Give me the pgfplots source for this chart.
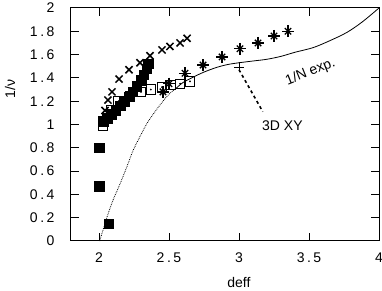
\documentclass[border=0pt]{standalone}
\usepackage{pgfplots}
\pgfplotsset{compat=1.18}
\usepackage{fontspec}
\setmainfont{Liberation Sans}
\newfontfamily\tickfont[LetterSpace=18]{Liberation Sans}

\pgfplotstableread{
x y
2.043 1.12
2.064 1.21
2.093 1.28
2.143 1.39
2.214 1.47
2.293 1.53
2.364 1.59
2.45 1.64
2.507 1.67
2.579 1.70
2.629 1.74
}\crosses

\pgfplotstableread{
x y
2.00 0.80
2.00 0.47
2.07 0.15
2.03 1.03
2.06 1.06
2.09 1.09
2.12 1.12
2.15 1.16
2.18 1.20
2.21 1.24
2.24 1.28
2.27 1.33
2.30 1.38
2.32 1.43
2.34 1.48
2.35 1.52
}\filled

\pgfplotstableread{
x y
2.03 0.99
2.06 1.05
2.09 1.12
2.14 1.20
2.22 1.24
2.30 1.28
2.37 1.30
2.45 1.32
2.51 1.34
2.58 1.35
2.65 1.37
}\open

\pgfplotstableread{
x y
2.457 1.28
2.50 1.35
2.614 1.44
2.743 1.51
2.879 1.58
3.007 1.65
3.136 1.70
3.25 1.76
3.35 1.80
}\stars

\begin{document}
\begin{tikzpicture}
\path[use as bounding box] (-71pt,-50pt) rectangle (311pt,241pt);
\begin{axis}[
  at={(0pt,0pt)}, anchor=south west,
  scale only axis, width=308pt, height=233pt,
  xmin=1.8, xmax=4, ymin=0, ymax=2,
  xtick={2,2.5,3,3.5,4}, xticklabels={2,2.5,3,3.5,4},
  ytick={0,0.2,0.4,0.6,0.8,1,1.2,1.4,1.6,1.8,2},
  yticklabels={0,0.2,0.4,0.6,0.8,1,1.2,1.4,1.6,1.8,2},
  tick align=inside, major tick length=8pt,
  tick style={black, line width=1pt},
  axis line style={line width=1pt},
  every tick label/.append style={font=\tickfont\fontsize{14}{14}\selectfont},
  xticklabel style={yshift=-8pt},
  yticklabel style={xshift=-13pt},
  xlabel={deff}, ylabel={1/ν},
  label style={font=\fontsize{14}{14}\selectfont},
  xlabel style={at={(axis description cs:0.545,-0.176)}, anchor=center},
  ylabel style={at={(axis description cs:-0.198,0.652)}, anchor=center, rotate=0},
  clip=false,
]
% dotted branch
\addplot[black, densely dotted, line width=0.8pt, no marks, smooth] coordinates {
(2.005,0.0) (2.03,0.10) (2.064,0.23) (2.10,0.35) (2.15,0.49) (2.20,0.64) (2.243,0.776)
(2.29,0.89) (2.343,1.01) (2.40,1.11) (2.45,1.19) (2.50,1.26) (2.55,1.31)};
% solid 1/N
\addplot[black, line width=0.8pt, no marks, smooth] coordinates {
(2.55,1.31) (2.60,1.36) (2.67,1.405) (2.75,1.45) (2.84,1.49) (2.92,1.515) (3.0,1.53)
(3.1,1.545) (3.2,1.56) (3.3,1.585) (3.4,1.62) (3.53,1.66) (3.65,1.72) (3.77,1.79)
(3.88,1.88) (4.0,2.0)};
% 3D XY
\addplot[black, line width=1.6pt, dash pattern=on 3pt off 3pt, no marks] coordinates {(3.0,1.47) (3.17,1.11)};
\addplot[black, only marks, mark=+, mark size=5pt, line width=1pt] coordinates {(3.0,1.49)};
% data
\addplot[black, only marks, mark=x, mark size=5pt, line width=1.5pt] table {\crosses};
\addplot[black, only marks, mark=square*, mark size=4.7pt] table {\filled};
\addplot[black, only marks, mark=square, mark size=4.7pt, line width=1pt, fill=white] table {\open};
\addplot[black, only marks, mark=*, mark size=0.7pt] table {\open};
\addplot[black, only marks, mark=x, mark size=4.5pt, line width=1.3pt] table {\stars};
\addplot[black, only marks, mark=+, mark size=6pt, line width=1.3pt] table {\stars};
\node[font=\fontsize{14}{14}\selectfont, rotate=22] at (axis cs:3.51,1.45) {1/N exp.};
\node[font=\fontsize{14}{14}\selectfont] at (axis cs:3.31,0.99) {3D XY};
\end{axis}
\end{tikzpicture}
\end{document}
